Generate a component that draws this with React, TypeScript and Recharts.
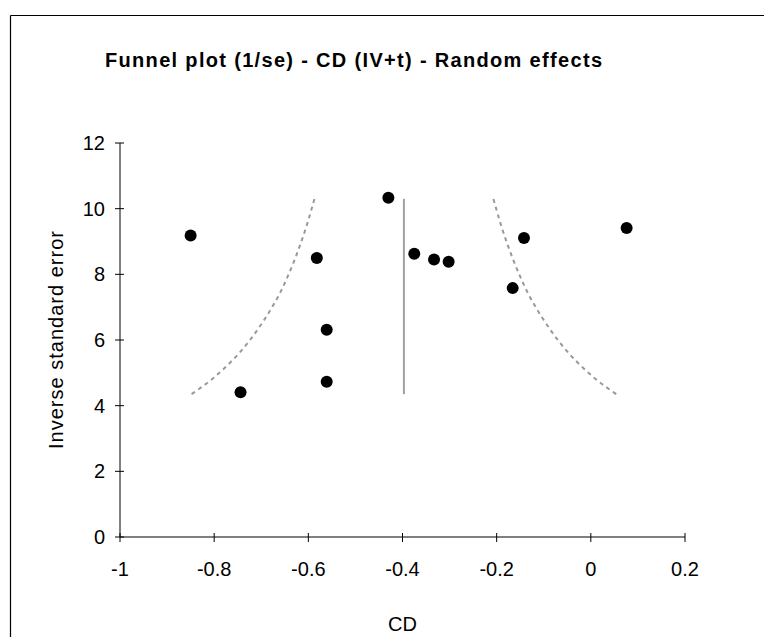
import React from 'react';
import { ScatterChart, Scatter, XAxis, YAxis } from 'recharts';

// Study points: effect size (CD) vs inverse standard error
const studyCD = [-0.85, -0.744, -0.582, -0.561, -0.561, -0.43, -0.375, -0.333, -0.302, -0.166, -0.142, 0.076];
const studyInvSE = [9.18, 4.41, 8.5, 6.31, 4.73, 10.33, 8.63, 8.45, 8.38, 7.58, 9.11, 9.41];

// Pooled estimate (vertical line)
const pooledCD = [-0.397, -0.397];
const pooledInvSE = [4.35, 10.3];

// Funnel limits
const funnelInvSE = [4.35, 4.7, 5.2, 5.8, 6.5, 7.3, 8.2, 9.2, 10.3];
const funnelLeftCD = [-0.848, -0.814, -0.774, -0.735, -0.699, -0.665, -0.636, -0.61, -0.587];
const funnelRightCD = [0.054, 0.02, -0.02, -0.059, -0.095, -0.129, -0.158, -0.184, -0.207];

const xTicks = [-1, -0.8, -0.6, -0.4, -0.2, 0, 0.2];
const yTicks = [0, 2, 4, 6, 8, 10, 12];

const title = 'Funnel plot (1/se) - CD (IV+t) - Random effects';
const xLabel = 'CD';
const yLabel = 'Inverse standard error';

const points = studyCD.map((x, i) => ({ x, y: studyInvSE[i] }));
const pooled = pooledCD.map((x, i) => ({ x, y: pooledInvSE[i] }));
const leftFunnel = funnelLeftCD.map((x, i) => ({ x, y: funnelInvSE[i] }));
const rightFunnel = funnelRightCD.map((x, i) => ({ x, y: funnelInvSE[i] }));

const FONT = '"Liberation Sans", Arial, sans-serif';

const fmt = (v: number) => String(Math.round(v * 10) / 10);

const XTick = (p: any) => (
  <g>
    <line x1={p.x} x2={p.x} y1={p.y - 4} y2={p.y + 5} stroke="#000" strokeWidth={1} />
    <text x={p.x} y={p.y + 39} textAnchor="middle" fontSize={20} fontFamily={FONT} fill="#000">
      {fmt(p.payload.value)}
    </text>
  </g>
);

const YTick = (p: any) => (
  <g>
    <line x1={p.x - 5} x2={p.x + 4} y1={p.y} y2={p.y} stroke="#000" strokeWidth={1} />
    <text x={p.x - 15} y={p.y + 7} textAnchor="end" fontSize={20} fontFamily={FONT} fill="#000">
      {fmt(p.payload.value)}
    </text>
  </g>
);

const NoShape = () => <g />;
const Dot = (p: any) => <circle cx={p.cx} cy={p.cy} r={6} fill="#000" />;

export default function App() {
  return (
    <div style={{ position: 'absolute', left: 0, top: 0, width: 764, height: 637, background: '#fff' }}>
      <ScatterChart width={764} height={637} margin={{ top: 143, right: 79, bottom: 60, left: 0 }}>
        <XAxis
          type="number"
          dataKey="x"
          domain={[-1, 0.2]}
          ticks={xTicks}
          allowDataOverflow
          height={40}
          tickSize={0}
          tickMargin={0}
          tickLine={false}
          axisLine={{ stroke: '#000', strokeWidth: 1 }}
          tick={XTick}
          interval={0}
          label={(props: any) => {
            const vb = props.viewBox || { x: 120, y: 537, width: 565 };
            return (
              <text x={vb.x + vb.width / 2} y={631} textAnchor="middle" fontSize={20} fontFamily={FONT} fill="#000">
                {xLabel}
              </text>
            );
          }}
        />
        <YAxis
          type="number"
          dataKey="y"
          domain={[0, 12]}
          ticks={yTicks}
          allowDataOverflow
          width={120}
          tickSize={0}
          tickMargin={0}
          tickLine={false}
          axisLine={{ stroke: '#000', strokeWidth: 1 }}
          tick={YTick}
          interval={0}
          label={(props: any) => {
            const vb = props.viewBox || { x: 0, y: 143, width: 120, height: 394 };
            const cy = vb.y + vb.height / 2;
            return (
              <text
                x={63}
                y={cy}
                textAnchor="middle"
                fontSize={20}
                fontFamily={FONT}
                fill="#000"
                textLength={218}
                lengthAdjust="spacing"
                transform={`rotate(-90, 63, ${cy})`}
              >
                {yLabel}
              </text>
            );
          }}
        />
        <Scatter
          data={leftFunnel}
          line={{ stroke: '#999', strokeWidth: 2, strokeDasharray: '4 4' }}
          lineJointType="monotoneY"
          shape={NoShape}
          isAnimationActive={false}
        />
        <Scatter
          data={rightFunnel}
          line={{ stroke: '#999', strokeWidth: 2, strokeDasharray: '4 4' }}
          lineJointType="monotoneY"
          shape={NoShape}
          isAnimationActive={false}
        />
        <Scatter
          data={pooled}
          line={{ stroke: '#a0a0a0', strokeWidth: 2 }}
          shape={NoShape}
          isAnimationActive={false}
        />
        <Scatter data={points} fill="#000" shape={Dot} isAnimationActive={false} />
      </ScatterChart>
      <svg
        width={764}
        height={637}
        style={{ position: 'absolute', left: 0, top: 0, pointerEvents: 'none' }}
      >
        <line x1={10.5} y1={15.5} x2={764} y2={15.5} stroke="#000" strokeWidth={1.2} />
        <line x1={10.5} y1={15.5} x2={10.5} y2={637} stroke="#000" strokeWidth={1.2} />
        <text
          x={105}
          y={67}
          fontSize={20}
          fontWeight="bold"
          fontFamily={FONT}
          fill="#000"
          textLength={497}
          lengthAdjust="spacing"
        >
          {title}
        </text>
      </svg>
    </div>
  );
}
